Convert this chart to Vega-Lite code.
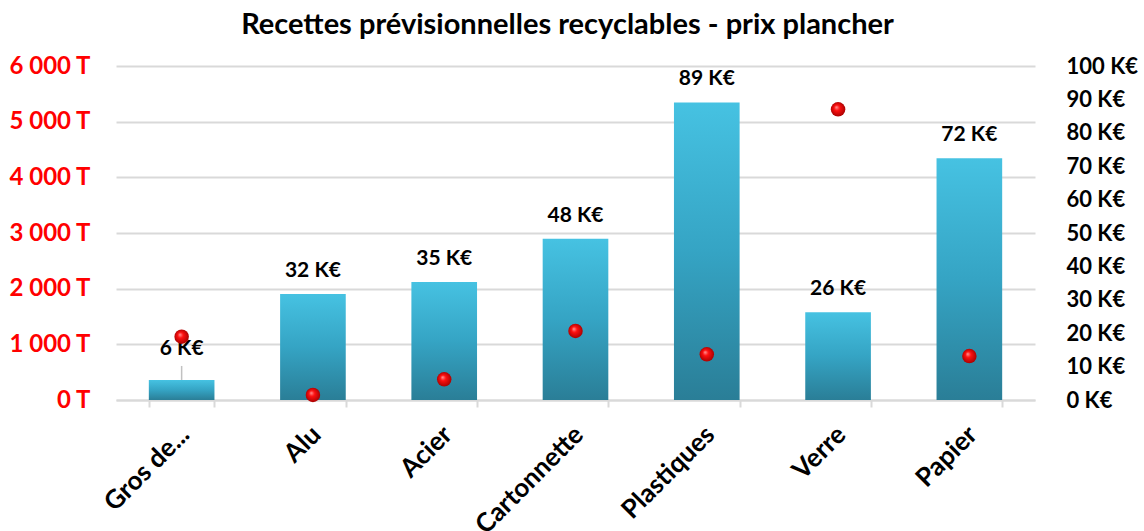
{
  "$schema": "https://vega.github.io/schema/vega-lite/v6.json",
  "autosize": {"type": "none"},
  "width": 919,
  "height": 334,
  "padding": {"left": 116, "top": 66, "right": 109, "bottom": 131},
  "background": "white",
  "title": {"text": "Recettes prévisionnelles recyclables - prix plancher", "font": "Lato", "fontSize": 29, "fontWeight": "bold", "color": "#000000", "anchor": "middle", "offset": 14, "dx": -8},
  "config": {"view": {"stroke": null}, "font": "Lato"},
  "data": {"values": [
    {"cat": "Gros de...", "keur": 6.0, "tonnes": 1137},
    {"cat": "Alu", "keur": 31.7, "tonnes": 90},
    {"cat": "Acier", "keur": 35.3, "tonnes": 371},
    {"cat": "Cartonnette", "keur": 48.3, "tonnes": 1240},
    {"cat": "Plastiques", "keur": 89.1, "tonnes": 821},
    {"cat": "Verre", "keur": 26.3, "tonnes": 5222},
    {"cat": "Papier", "keur": 72.4, "tonnes": 790}
  ]},
  "encoding": {
    "x": {"field": "cat", "type": "nominal", "sort": null, "title": null,
      "scale": {"paddingInner": 0.5, "paddingOuter": 0.25},
      "axis": {"labelAngle": -45, "labelFontSize": 26, "labelFontWeight": "bold", "labelColor": "#000000", "labelFont": "Lato", "labelOffset": -6,
        "domainColor": "#D9D9D9", "domainWidth": 2, "tickColor": "#D9D9D9", "tickBand": "extent", "tickSize": 7, "tickWidth": 2, "labelPadding": 14}}
  },
  "layer": [
    {
      "mark": {"type": "bar", "color": {"gradient": "linear", "x1": 0, "y1": 0, "x2": 0, "y2": 1, "stops": [{"offset": 0, "color": "#46C2E2"}, {"offset": 0.5, "color": "#35A4C4"}, {"offset": 1, "color": "#2A7E97"}]}},
      "encoding": {
        "y": {"field": "keur", "type": "quantitative", "scale": {"domain": [0, 100]},
          "axis": {"orient": "right", "values": [0,10,20,30,40,50,60,70,80,90,100], "labelExpr": "datum.value + ' K€'", "labelFontSize": 22, "labelFontWeight": "bold", "labelColor": "#000000", "labelFont": "Lato", "domain": false, "ticks": false, "grid": false, "labelPadding": 31, "title": null}}
      }
    },
    {
      "transform": [{"filter": "datum.cat !== 'Gros de...'"}, {"calculate": "format(datum.keur, '.0f') + ' K€'", "as": "lbl"}],
      "mark": {"type": "text", "baseline": "alphabetic", "dy": -17, "fontSize": 21, "fontWeight": "bold", "color": "#000000", "font": "Lato"},
      "encoding": {
        "y": {"field": "keur", "type": "quantitative", "scale": {"domain": [0, 100]}, "axis": null},
        "text": {"field": "lbl", "type": "nominal"}
      }
    },
    {
      "transform": [{"filter": "datum.cat === 'Gros de...'"}, {"calculate": "format(datum.keur, '.0f') + ' K€'", "as": "lbl"}],
      "mark": {"type": "text", "baseline": "alphabetic", "dy": -25, "fontSize": 21, "fontWeight": "bold", "color": "#000000", "font": "Lato"},
      "encoding": {
        "y": {"field": "keur", "type": "quantitative", "scale": {"domain": [0, 100]}, "axis": null},
        "text": {"field": "lbl", "type": "nominal"}
      }
    },
    {
      "transform": [{"filter": "datum.cat === 'Gros de...'"}],
      "mark": {"type": "tick", "orient": "vertical", "size": 14, "thickness": 1.5, "color": "#A6A6A6", "yOffset": -7},
      "encoding": {
        "y": {"field": "keur", "type": "quantitative", "scale": {"domain": [0, 100]}, "axis": null}
      }
    },
    {
      "mark": {"type": "point", "filled": true, "shape": "circle", "size": 210, "opacity": 1,
        "color": {"gradient": "radial", "x1": 0.38, "y1": 0.35, "r1": 0, "x2": 0.5, "y2": 0.5, "r2": 0.55, "stops": [{"offset": 0, "color": "#FF9A9A"}, {"offset": 0.35, "color": "#FF1010"}, {"offset": 1, "color": "#A00000"}]}},
      "encoding": {
        "y": {"field": "tonnes", "type": "quantitative", "scale": {"domain": [0, 6000]},
          "axis": {"orient": "left", "values": [0,1000,2000,3000,4000,5000,6000], "labelExpr": "datum.value >= 1000 ? floor(datum.value/1000) + ' 000 T' : datum.value + ' T'", "labelFontSize": 24, "labelFontWeight": "bold", "labelColor": "#FF0000", "labelFont": "Lato", "domain": false, "ticks": false, "grid": true, "gridColor": "#D9D9D9", "gridWidth": 2, "labelPadding": 26, "title": null}}
      }
    }
  ],
  "resolve": {"scale": {"y": "independent"}}
}
